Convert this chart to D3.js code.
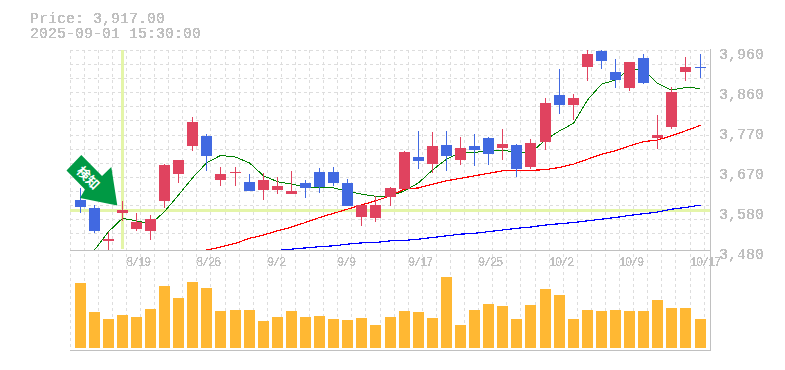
<!DOCTYPE html>
<html>
<head>
<meta charset="utf-8">
<script src="https://cdn.jsdelivr.net/npm/d3@7"></script>
<style>
  html, body { margin: 0; padding: 0; background: #fff; }
  svg { display: block; }
  text { font-family: "Liberation Mono", monospace; fill: #c0c0c0; }
</style>
</head>
<body>
<svg id="chart" width="785" height="370">
  <defs>
    <filter id="hard-text" x="-5%" y="-20%" width="110%" height="140%" color-interpolation-filters="sRGB">
      <feComponentTransfer>
        <feFuncA type="discrete" tableValues="0 1 1"></feFuncA>
      </feComponentTransfer>
    </filter>
  </defs>
</svg>
<script>
const dates = ['8/13','8/14','8/15','8/18','8/19','8/20','8/21','8/22','8/25','8/26',
  '8/27','8/28','8/29','9/1','9/2','9/3','9/4','9/5','9/8','9/9',
  '9/10','9/11','9/12','9/16','9/17','9/18','9/19','9/22','9/24','9/25',
  '9/26','9/29','9/30','10/1','10/2','10/3','10/6','10/7','10/8','10/9',
  '10/10','10/14','10/15','10/16','10/17'];
const opens = [3600,3582,3502,3570,3530,3526,3598,3663,3730,3754,3648,3665,3643,3624,3624,3614,
  3641,3667,3667,3641,3559,3557,3607,3626,3703,3686,3732,3696,3730,3749,3725,3732,3679,3739,
  3852,3828,3919,3958,3907,3869,3941,3749,3775,3907,3919];
const closes = [3584,3526,3506,3576,3547,3554,3684,3696,3787,3706,3662,3667,3622,3648,3634,3622,
  3629,3632,3641,3586,3588,3588,3629,3715,3694,3730,3706,3725,3720,3710,3734,3674,3737,3833,
  3828,3845,3950,3934,3888,3931,3881,3756,3859,3919,3917];
const highs = [3629,3588,3524,3598,3568,3564,3686,3696,3799,3758,3679,3679,3662,3665,3655,3670,
  3648,3677,3679,3650,3588,3610,3631,3718,3766,3763,3766,3751,3758,3751,3770,3734,3746,3845,
  3914,3854,3960,3960,3938,3931,3950,3804,3871,3943,3950];
const lows = [3569,3522,3478,3550,3526,3504,3582,3642,3718,3670,3634,3634,3622,3600,3614,3614,
  3605,3617,3634,3586,3538,3547,3586,3626,3674,3665,3670,3684,3682,3684,3696,3655,3674,3720,
  3806,3792,3886,3914,3869,3862,3878,3722,3770,3886,3893];
const volumes = [6500,3600,2900,3300,3100,3900,6200,5000,6600,6000,3700,3800,3800,2700,3100,3700,
  3100,3200,2900,2800,3000,2300,3100,3700,3600,3000,7100,2300,3800,4400,4200,2900,4300,5900,
  5300,2900,3800,3700,3800,3700,3700,4800,4000,4000,2900];
const maShort = [null,3480,3524,3556,3550,3542,3572,3612,3653,3689,3707,3703,3689,3658,3644,3638,
  3632,3630,3629,3621,3614,3609,3609,3622,3641,3672,3698,3714,3714,3719,3720,3714,3713,3744,
  3766,3784,3840,3878,3888,3914,3914,3880,3864,3870,3868];
const maMid = [null,null,null,null,null,null,null,null,null,3480,3487,3496,3508,3516,3526,3535,
  3546,3558,3568,3578,3588,3598,3610,3626,3629,3638,3646,3652,3658,3664,3670,3671,3671,3673,
  3678,3686,3698,3710,3718,3730,3740,3744,3754,3766,3779];
const maLong = [null,null,null,null,null,null,null,null,null,null,null,null,null,null,3479,3482,
  3485,3488,3490,3494,3497,3498,3502,3503,3506,3510,3514,3518,3520,3524,3528,3532,3535,3540,
  3543,3546,3550,3554,3558,3563,3567,3571,3578,3582,3588];
const priceTicks = [3480,3576,3672,3768,3864,3960];
const priceLabels = ['3,480','3,580','3,670','3,770','3,860','3,960'];
const dateTicks = ['8/19','8/26','9/2','9/9','9/17','9/25','10/2','10/9','10/17'];
const headerLines = ['Price: 3,917.00','2025-09-01 15:30:00'];
const crossPrice = 3576;
const crossDate = '8/18';
const gridCount = d3.range(14);
const candles = dates.map((d, i) => ({ date: d, o: opens[i], c: closes[i], h: highs[i], l: lows[i], v: volumes[i] }));

let svg = d3.select('#chart');
let plotLeft = 70, plotRight = 710, plotTop = 50, plotMid = 250, plotBottom = 350;

let xPos = d3.scaleBand().domain(dates).range([plotLeft, 704.1]);
let yPos = d3.scaleLinear().domain([3480, 3960]).range([plotMid, plotTop]);
let volPos = d3.scaleLinear().domain([0, 10000]).range([348, 248]);
let gridY = d3.scaleLinear().domain([0, 1]).range([50.5, 64.59]);

let gridX = (d) => Math.floor(xPos(d));
let bodyX = (d) => Math.floor(xPos(d) + 5);

svg.append('clipPath').attr('id', 'price-clip').append('rect')
  .attr('x', plotLeft).attr('y', plotTop).attr('width', plotRight - plotLeft).attr('height', plotMid - plotTop + 1);

// grid
let grid = svg.append('g').attr('stroke', '#dddddd').attr('stroke-dasharray', '3 3').attr('shape-rendering', 'crispEdges');
grid.selectAll('.v')
  .data(dates.concat(['end']))
  .join('line')
  .attr('class', 'v')
  .attr('x1', (d, i) => (i < dates.length ? gridX(d) : 704) + 0.5)
  .attr('x2', (d, i) => (i < dates.length ? gridX(d) : 704) + 0.5)
  .attr('y1', plotTop).attr('y2', plotBottom);
grid.selectAll('.h')
  .data(gridCount)
  .join('line')
  .attr('class', 'h')
  .attr('x1', plotLeft).attr('x2', plotRight)
  .attr('y1', (d) => Math.floor(gridY(d)) + 0.5)
  .attr('y2', (d) => Math.floor(gridY(d)) + 0.5);

// crosshair
let crossX = bodyX(crossDate) + 5.5;
svg.append('line')
  .attr('x1', crossX).attr('x2', crossX).attr('y1', plotTop).attr('y2', plotMid - 1)
  .attr('stroke', '#e4f5a9').attr('stroke-width', 3).attr('shape-rendering', 'crispEdges');
svg.append('line')
  .attr('x1', plotLeft).attr('x2', plotRight).attr('y1', yPos(crossPrice) + 0.5).attr('y2', yPos(crossPrice) + 0.5)
  .attr('stroke', '#e4f5a9').attr('stroke-width', 3).attr('shape-rendering', 'crispEdges');

// moving averages
let maLine = d3.line()
  .defined((d) => d != null)
  .x((d, i) => bodyX(dates[i]) + 5.5)
  .y((d) => yPos(d));
let maG = svg.append('g').attr('clip-path', 'url(#price-clip)').attr('fill', 'none').attr('shape-rendering', 'crispEdges');
maG.append('path').attr('d', maLine(maLong)).attr('stroke', '#0000ff').attr('stroke-width', 1.2);
maG.append('path').attr('d', maLine(maMid)).attr('stroke', '#ff0000').attr('stroke-width', 1.2);
maG.append('path').attr('d', maLine(maShort)).attr('stroke', '#008000').attr('stroke-width', 1);

// candles
let candleColor = (d) => (d.c >= d.o ? '#e0435f' : '#4169e1');
let candleG = svg.append('g').attr('shape-rendering', 'crispEdges');
candleG.selectAll('.wick')
  .data(candles)
  .join('rect')
  .attr('class', 'wick')
  .attr('x', (d) => bodyX(d.date) + 5)
  .attr('width', 1)
  .attr('y', (d) => yPos(d.h))
  .attr('height', (d) => yPos(d.l) - yPos(d.h))
  .attr('fill', candleColor);
candleG.selectAll('.body')
  .data(candles)
  .join('rect')
  .attr('class', 'body')
  .attr('x', (d) => bodyX(d.date))
  .attr('width', 11)
  .attr('y', (d) => yPos(Math.max(d.o, d.c)))
  .attr('height', (d) => Math.max(1, Math.abs(yPos(d.o) - yPos(d.c))))
  .attr('fill', candleColor);

// volume
svg.append('g').attr('shape-rendering', 'crispEdges')
  .selectAll('rect')
  .data(candles)
  .join('rect')
  .attr('x', (d) => bodyX(d.date))
  .attr('width', 11)
  .attr('y', (d) => volPos(d.v))
  .attr('height', (d) => volPos(0) - volPos(d.v))
  .attr('fill', '#ffb833');

// frame
let frame = svg.append('g').attr('stroke', '#c0c0c0').attr('stroke-width', 1.5).attr('shape-rendering', 'crispEdges');
frame.append('line').attr('x1', plotLeft).attr('x2', plotRight).attr('y1', plotMid + 0.5).attr('y2', plotMid + 0.5);
frame.append('line').attr('x1', plotLeft).attr('x2', plotRight + 1).attr('y1', plotBottom + 0.5).attr('y2', plotBottom + 0.5);
frame.append('line').attr('x1', plotRight + 0.5).attr('x2', plotRight + 0.5).attr('y1', plotTop - 1).attr('y2', plotBottom);

// axes
let yAxis = d3.axisRight(yPos)
  .tickValues(priceTicks)
  .tickFormat((d, i) => priceLabels[i])
  .tickSize(0)
  .tickPadding(0);
let yG = svg.append('g').attr('transform', `translate(719,0)`).call(yAxis);
yG.select('.domain').remove();
yG.selectAll('text').attr('dy', 8).attr('font-size', 15).attr('filter', 'url(#hard-text)');
yG.attr('font-family', null).attr('font-size', null);

let xAxis = d3.axisBottom(xPos)
  .tickValues(dateTicks)
  .tickSize(0)
  .tickPadding(0);
let xG = svg.append('g').attr('transform', `translate(0,266)`).call(xAxis);
xG.select('.domain').remove();
xG.attr('font-family', null).attr('font-size', null);
xG.selectAll('.tick').attr('transform', (d) => `translate(${gridX(d)},0)`);
xG.selectAll('text')
  .attr('y', 0).attr('dy', 0)
  .attr('text-anchor', 'start')
  .attr('font-size', 12)
  .attr('letter-spacing', -1.2)
  .attr('filter', 'url(#hard-text)');

// header
svg.selectAll('.header')
  .data(headerLines)
  .join('text')
  .attr('class', 'header')
  .attr('x', 30)
  .attr('y', (d, i) => 23 + i * 15)
  .attr('font-size', 15)
  .attr('filter', 'url(#hard-text)')
  .text((d) => d);

// signal arrow
let arrow = svg.append('g');
arrow.append('path')
  .attr('d', 'M81.3,155 L102,176 L111.3,167 L117.3,205.5 L80,198 L85,189.5 L66.5,170.5 Z')
  .attr('fill', '#009944');
arrow.append('text')
  .attr('transform', 'translate(88,178) rotate(45)')
  .attr('text-anchor', 'middle')
  .attr('dy', 4.5)
  .attr('font-size', 13)
  .attr('font-weight', 'bold')
  .style('font-family', '"Noto Sans CJK JP"')
  .style('fill', '#ffffff')
  .text('検知');
</script>
</body>
</html>
